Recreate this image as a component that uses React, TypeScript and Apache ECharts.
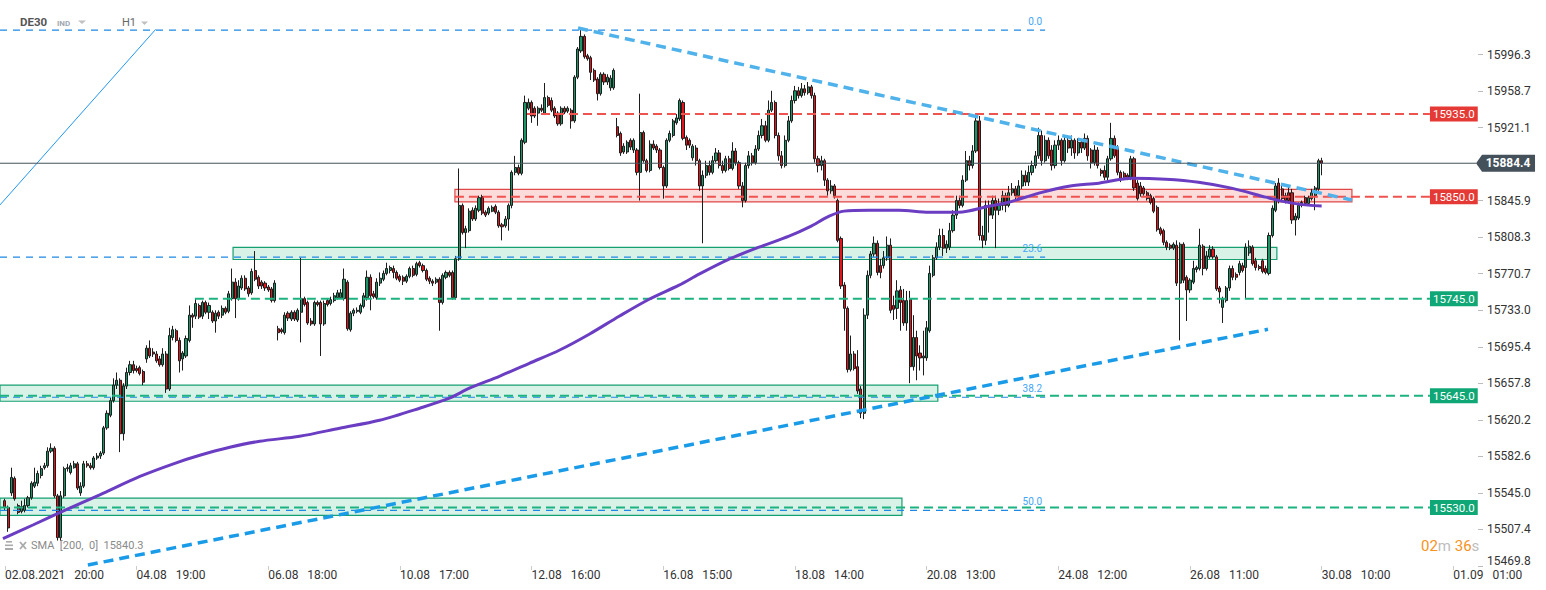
import React, { useEffect, useRef } from 'react';
import * as echarts from 'echarts';

const N_SLOTS = 449;
const xTickLabels = ['02.08.2021 20:00', '04.08 19:00', '06.08 18:00', '10.08 17:00', '12.08 16:00', '16.08 15:00', '18.08 14:00', '20.08 13:00', '24.08 12:00', '26.08 11:00', '30.08 10:00', '01.09 01:00'];
const yTickLabels = ['15469.8', '15507.4', '15545.0', '15582.6', '15620.2', '15657.8', '15695.4', '15733.0', '15770.7', '15808.3', '15845.9', '', '15921.1', '15958.7', '15996.3', ''];
const Y_MIN = 15469.8;
const Y_STEP = 37.607;

// candles: [open, close, low, high]
const seg1 = [
  [15537,15530,15527,15539],[15530,15509,15505,15532],[15545,15561,15542,15571],[15560,15539,15537,15562],[15532,15525,15523,15534],
  [15526,15531,15524,15537],[15527,15532,15525,15539],[15532,15540,15530,15542],[15540,15555,15538,15557],[15552,15556,15550,15571],
  [15555,15565,15552,15568],[15563,15570,15560,15573],[15571,15573,15569,15576],[15573,15588,15571,15592],[15588,15591,15586,15596],
  [15591,15542,15540,15593],[15542,15499,15496,15544],[15499,15542,15496,15547],[15542,15570,15540,15572],[15570,15571,15567,15575],
  [15566,15573,15564,15576],[15571,15575,15570,15578],[15575,15550,15548,15577],[15545,15552,15542,15556],[15552,15575,15550,15578],
  [15575,15573,15571,15578],[15573,15571,15569,15576],[15571,15581,15569,15583],[15581,15583,15579,15586],[15583,15586,15580,15588],
  [15586,15612,15584,15614],[15612,15627,15610,15630],[15625,15640,15623,15643],[15640,15656,15638,15663],[15656,15661,15652,15669],
  [15661,15606,15587,15663],[15606,15655,15599,15658],[15655,15669,15652,15674],[15669,15677,15666,15681],[15677,15671,15668,15681],
];
const seg2 = [
  [15673,15671,15669,15676],[15674,15668,15666,15676],[15670,15659,15656,15672],[15683,15694,15679,15697],[15694,15686,15684,15702],
  [15690,15688,15685,15694],[15688,15681,15679,15691],[15683,15677,15675,15686],[15677,15688,15675,15694],[15688,15652,15648,15691],
  [15652,15707,15650,15715],[15705,15713,15702,15717],[15712,15702,15700,15714],[15702,15681,15669,15705],[15683,15689,15671,15691],
  [15686,15704,15684,15707],[15702,15728,15700,15738],[15728,15726,15715,15730],[15727,15740,15724,15745],[15738,15726,15724,15740],
  [15727,15741,15724,15743],[15741,15731,15729,15743],[15731,15738,15724,15741],[15731,15722,15720,15733],[15722,15730,15710,15733],
  [15731,15727,15724,15733],[15728,15735,15725,15738],[15735,15731,15729,15737],[15732,15750,15730,15753],[15745,15762,15743,15776],
  [15762,15745,15725,15766],[15745,15758,15743,15764],[15756,15766,15754,15769],[15766,15755,15753,15769],[15756,15750,15747,15758],
  [15751,15773,15749,15776],[15774,15765,15763,15794],[15767,15758,15755,15769],[15762,15758,15755,15764],[15761,15756,15753,15763],
];
const seg3 = [
  [15757,15754,15752,15759],[15755,15743,15741,15757],[15743,15761,15741,15764],[15714,15710,15702,15717],[15713,15711,15709,15715],
  [15710,15728,15708,15731],[15730,15725,15722,15732],[15724,15731,15722,15733],[15731,15724,15722,15733],[15723,15733,15721,15735],
  [15731,15745,15700,15787],[15745,15739,15737,15747],[15741,15720,15718,15743],[15722,15719,15717,15725],[15719,15741,15717,15743],
  [15741,15739,15737,15743],[15741,15719,15686,15743],[15719,15740,15717,15743],[15743,15739,15737,15745],[15740,15744,15738,15747],
  [15743,15748,15741,15751],[15746,15751,15744,15754],[15746,15751,15745,15755],[15745,15765,15743,15776],[15762,15714,15712,15764],
  [15713,15730,15711,15732],[15730,15733,15727,15735],[15732,15733,15730,15736],[15731,15738,15729,15740],[15737,15748,15735,15751],
  [15746,15767,15743,15774],[15767,15748,15733,15770],[15750,15747,15745,15753],[15746,15762,15744,15766],[15761,15766,15758,15772],
  [15765,15771,15763,15774],[15771,15776,15769,15782],[15774,15777,15771,15779],[15776,15772,15766,15779],[15772,15766,15764,15774],
];
const seg4 = [
  [15768,15764,15762,15770],[15767,15763,15759,15769],[15763,15768,15761,15770],[15768,15776,15766,15778],[15776,15769,15767,15779],
  [15770,15781,15768,15783],[15782,15779,15777,15784],[15779,15774,15772,15781],[15774,15765,15763,15776],[15766,15763,15760,15768],
  [15763,15761,15758,15765],[15762,15765,15760,15767],[15765,15741,15712,15767],[15741,15769,15739,15771],[15767,15772,15765,15774],
  [15772,15769,15767,15774],[15772,15746,15744,15774],[15746,15786,15744,15789],[15786,15841,15784,15879],[15841,15813,15811,15843],
  [15813,15817,15797,15820],[15815,15835,15813,15838],[15836,15827,15825,15839],[15827,15838,15825,15841],[15836,15849,15834,15851],
  [15850,15833,15831,15852],[15834,15831,15829,15836],[15833,15838,15831,15840],[15835,15839,15834,15841],[15840,15834,15832,15842],
  [15834,15820,15818,15836],[15821,15819,15805,15823],[15820,15827,15818,15830],[15827,15841,15815,15843],[15841,15875,15838,15877],
  [15875,15880,15872,15892],[15880,15874,15872,15883],[15874,15908,15872,15910],[15906,15947,15904,15954],[15941,15947,15939,15951],
];
const seg5 = [
  [15947,15933,15926,15949],[15941,15933,15931,15943],[15936,15941,15923,15943],[15941,15939,15937,15945],[15936,15952,15934,15967],
  [15952,15944,15942,15954],[15949,15939,15937,15952],[15941,15933,15931,15943],[15936,15925,15923,15938],[15925,15941,15923,15943],
  [15941,15937,15935,15943],[15938,15941,15936,15943],[15939,15928,15920,15941],[15928,15973,15926,15975],[15973,16002,15971,16004],
  [16000,16015,15998,16022],[16015,15994,15992,16017],[15995,15992,15990,15997],[15993,15978,15970,15995],[15980,15970,15968,15982],
  [15971,15956,15949,15973],[15956,15976,15954,15978],[15976,15968,15965,15978],[15968,15973,15965,15976],[15962,15972,15959,15975],
  [15962,15980,15960,15982],[15922,15913,15911,15931],[15915,15895,15892,15917],[15896,15902,15894,15905],[15896,15906,15894,15908],
  [15908,15901,15898,15910],[15898,15908,15895,15910],[15898,15875,15872,15900],[15875,15916,15846,15956],[15916,15887,15885,15918],
  [15887,15877,15875,15889],[15877,15904,15875,15908],[15904,15900,15898,15908],[15902,15898,15895,15904],[15898,15880,15878,15900],
];
const seg6 = [
  [15880,15861,15848,15882],[15861,15908,15859,15910],[15908,15915,15906,15918],[15913,15928,15911,15930],[15926,15931,15924,15935],
  [15930,15949,15928,15951],[15947,15910,15908,15949],[15911,15903,15898,15913],[15908,15903,15900,15910],[15890,15902,15887,15904],
  [15900,15887,15882,15903],[15887,15861,15856,15889],[15861,15872,15802,15877],[15872,15882,15869,15887],[15882,15875,15872,15887],
  [15875,15887,15873,15892],[15887,15895,15885,15900],[15895,15882,15879,15898],[15882,15877,15874,15887],[15877,15889,15875,15892],
  [15889,15879,15877,15892],[15879,15897,15877,15906],[15897,15885,15882,15900],[15885,15861,15858,15887],[15861,15846,15839,15865],
  [15846,15882,15844,15885],[15882,15892,15879,15897],[15892,15885,15882,15895],[15885,15899,15883,15903],[15899,15913,15897,15918],
  [15913,15923,15910,15930],[15923,15908,15906,15928],[15908,15939,15906,15949],[15939,15947,15937,15959],[15947,15913,15910,15949],
  [15913,15892,15887,15916],[15892,15882,15879,15897],[15882,15908,15880,15913],[15908,15928,15906,15933],[15928,15949,15926,15954],
];
const seg7 = [
  [15949,15959,15946,15964],[15959,15954,15951,15963],[15954,15961,15952,15967],[15961,15957,15954,15965],[15957,15963,15955,15968],
  [15963,15954,15951,15965],[15954,15889,15885,15957],[15889,15882,15875,15892],[15882,15887,15877,15892],[15887,15867,15861,15889],
  [15867,15856,15851,15869],[15856,15861,15853,15867],[15861,15851,15848,15863],[15846,15805,15803,15848],[15807,15758,15755,15809],
  [15759,15735,15712,15762],[15735,15672,15669,15737],[15672,15688,15670,15707],[15688,15673,15671,15691],[15675,15650,15647,15692],
  [15652,15627,15622,15655],[15627,15728,15621,15735],[15728,15769,15724,15774],[15769,15791,15766,15794],[15791,15802,15788,15809],
  [15802,15772,15769,15805],[15779,15772,15766,15786],[15779,15787,15776,15794],[15787,15800,15784,15809],[15800,15733,15730,15807],
  [15738,15734,15723,15748],[15735,15753,15724,15764],[15754,15741,15712,15758],[15743,15720,15717,15755],[15720,15743,15712,15753],
  [15745,15675,15658,15753],[15675,15705,15671,15728],[15705,15686,15661,15712],[15689,15684,15671,15697],[15684,15686,15666,15712],
];
const seg8 = [
  [15684,15715,15681,15722],[15712,15771,15710,15779],[15769,15787,15767,15790],[15787,15798,15785,15803],[15798,15810,15795,15817],
  [15810,15797,15789,15817],[15797,15801,15792,15805],[15798,15815,15795,15823],[15815,15831,15813,15836],[15831,15846,15827,15851],
  [15846,15841,15838,15851],[15841,15867,15839,15872],[15867,15887,15865,15897],[15887,15882,15877,15892],[15882,15897,15879,15903],
  [15897,15928,15895,15936],[15928,15810,15805,15933],[15810,15805,15797,15820],[15805,15841,15800,15846],[15841,15831,15813,15846],
  [15831,15846,15827,15851],[15846,15836,15797,15851],[15836,15841,15831,15848],[15841,15851,15836,15856],[15851,15841,15834,15854],
  [15841,15854,15839,15861],[15854,15858,15851,15864],[15858,15851,15846,15861],[15851,15861,15848,15867],[15861,15872,15858,15877],
  [15872,15865,15861,15877],[15865,15875,15861,15882],[15875,15882,15872,15887],[15882,15892,15879,15897],[15892,15913,15889,15921],
  [15913,15887,15882,15918],[15887,15908,15885,15913],[15908,15892,15889,15911],[15898,15882,15877,15903],[15882,15903,15879,15908],
];
const seg9 = [
  [15903,15908,15898,15913],[15908,15887,15882,15910],[15887,15908,15885,15913],[15908,15900,15895,15911],[15900,15908,15892,15913],
  [15908,15895,15889,15910],[15895,15906,15892,15910],[15906,15900,15895,15908],[15900,15910,15898,15915],[15910,15892,15887,15913],
  [15898,15885,15879,15900],[15885,15898,15882,15903],[15898,15882,15879,15901],[15877,15874,15871,15879],[15877,15870,15867,15882],
  [15870,15889,15867,15892],[15889,15910,15887,15926],[15910,15892,15890,15913],[15901,15875,15872,15903],[15875,15868,15865,15877],
  [15874,15870,15867,15876],[15872,15870,15867,15874],[15870,15889,15867,15892],[15889,15859,15856,15891],[15864,15848,15846,15867],
  [15861,15853,15850,15865],[15859,15853,15851,15861],[15854,15848,15846,15856],[15851,15844,15842,15853],[15848,15835,15833,15850],
  [15839,15816,15814,15841],[15817,15812,15810,15819],[15815,15803,15800,15817],[15803,15798,15795,15805],[15800,15797,15795,15802],
  [15797,15801,15795,15803],[15800,15761,15758,15805],[15761,15801,15702,15803],[15801,15764,15761,15803],[15767,15754,15722,15769],
];
const seg10 = [
  [15754,15764,15751,15766],[15762,15776,15760,15784],[15775,15777,15772,15779],[15776,15800,15774,15817],[15799,15776,15769,15801],
  [15776,15789,15774,15794],[15788,15796,15786,15800],[15796,15788,15786,15799],[15788,15755,15753,15790],[15756,15752,15740,15758],
  [15736,15745,15720,15747],[15743,15756,15741,15758],[15756,15776,15753,15779],[15776,15767,15764,15779],[15770,15767,15764,15772],
  [15772,15781,15769,15784],[15779,15774,15772,15782],[15777,15798,15745,15802],[15792,15799,15789,15805],[15798,15781,15779,15800],
  [15784,15777,15774,15787],[15778,15776,15774,15780],[15784,15773,15771,15786],[15776,15772,15770,15779],[15771,15810,15769,15813],
  [15810,15838,15808,15841],[15836,15861,15834,15864],[15864,15846,15843,15869],[15858,15848,15846,15861],[15851,15846,15843,15854],
  [15854,15846,15844,15861],[15854,15826,15822,15858],[15826,15830,15810,15833],[15828,15841,15826,15844],[15841,15844,15839,15846],
  [15849,15843,15841,15851],[15843,15849,15841,15851],[15848,15854,15846,15858],[15851,15859,15836,15861],[15858,15887,15856,15889],
];
const seg11 = [[15887, 15884.4, 15872, 15890]];

const smaIdx = [0.4, 9.5, 19.8, 29.8, 42, 52.6, 60.2, 69.3, 78.4, 90.5, 102.7, 114.8, 127, 136, 142.1, 151.2, 160.3, 169.4, 178.5, 187.6, 196.7, 205.8, 211.9, 221, 230.1, 239.2, 245.3, 251.4, 255.9, 263.5, 272.6, 281.7, 290.8, 299.9, 306, 315.1, 324.2, 333.3, 343.3, 353.6, 363.6, 373.6, 384, 388.8, 394, 401];
const smaVal = [15498, 15512, 15528, 15543, 15562, 15575.5, 15583.8, 15592.0, 15598.2, 15603.3, 15611.6, 15619.8, 15632.2, 15642.5, 15652.8, 15665.1, 15678.5, 15691.9, 15708.4, 15726.9, 15744.4, 15758.9, 15770.2, 15785.6, 15798.0, 15809.3, 15818.6, 15829.9, 15835.1, 15836.1, 15836.1, 15834.0, 15834.0, 15840.2, 15844.3, 15853.6, 15860.8, 15863.9, 15869.0, 15868.0, 15864.9, 15858.8, 15849.5, 15845.4, 15842.3, 15840.3];

const LAST_PRICE = 15884.4;
const levelValues = [15935.0, 15850.0, 15745.0, 15645.0, 15530.0];
const levelStarts = [159.6, 137.7, 58.7, -0.5, -0.5];
const levelKinds = ['res', 'res', 'sup', 'sup', 'sup'];
const LEVEL_END = 433.9;

const fibNames = ['0.0', '23.6', '38.2', '50.0'];
const fibValues = [16021.5, 15787.7, 15643.5, 15527.1];
const FIB_END = 317;

// zones: [x0, x1, top, bottom, kind(0 red,1 green)]
const zones = [
  [137.7, 410.2, 15857.4, 15844.6, 0],
  [70.3, 387.4, 15797.7, 15785.3, 1],
  [-0.5, 284.4, 15655.9, 15639.4, 1],
  [-0.5, 273.5, 15539.6, 15522.0, 1],
];

const upperTrend = [[175.1, 16023.6], [410.2, 15846.5]];
const lowerTrend = [[26.2, 15470.8], [384.7, 15713.5]];
const thinLine = [[-0.5, 15841.5], [46.8, 16022.2]];
const TAG_X = 447.9;

const RED = '#e53935';
const GREEN = '#10a776';

function buildOption() {
  const all = [...seg1, ...seg2, ...seg3, ...seg4, ...seg5, ...seg6, ...seg7, ...seg8, ...seg9, ...seg10, ...seg11];
  const candles = all.map((c, i) => [i + 1, c[0], c[1], c[2], c[3]]);
  const cats = Array.from({ length: N_SLOTS }, (_, i) => String(i));
  const tickIdx = Array.from({ length: 15 }, (_, i) => i);
  const series: any[] = [];

  series.push({
    type: 'custom', xAxisIndex: 1, yAxisIndex: 0, silent: true, z: 1,
    data: zones, encode: { x: [0, 1], y: [2, 3] },
    renderItem: (params: any, api: any) => {
      const p0 = api.coord([api.value(0), api.value(2)]);
      const p1 = api.coord([api.value(1), api.value(3)]);
      const red = api.value(4) === 0;
      return {
        type: 'rect',
        shape: { x: p0[0], y: p0[1], width: p1[0] - p0[0], height: p1[1] - p0[1] },
        style: red
          ? { fill: 'rgba(240,90,90,0.22)', stroke: '#e04848', lineWidth: 1.2 }
          : { fill: 'rgba(40,185,130,0.18)', stroke: '#14a070', lineWidth: 1.2 },
      };
    },
  });

  series.push({
    type: 'candlestick', xAxisIndex: 0, yAxisIndex: 0, silent: true, z: 3,
    data: candles, encode: { x: 0, y: [1, 2, 3, 4] },
    barWidth: 2.6,
    itemStyle: { color: '#1b9466', color0: '#e3151b', borderColor: '#1d1d1d', borderColor0: '#1d1d1d', borderWidth: 1 },
  });

  fibValues.forEach((v, i) => {
    series.push({
      type: 'line', xAxisIndex: 1, yAxisIndex: 0, silent: true, z: 4,
      symbol: 'circle', symbolSize: 0.1, showSymbol: true,
      lineStyle: { color: '#1e88e5', width: 1.2, type: [7, 6] },
      itemStyle: { color: '#1e88e5' },
      data: [[-0.5, v], { value: [FIB_END, v], label: { show: true, formatter: fibNames[i], position: [-3, -9], align: 'right', verticalAlign: 'middle', color: '#42a5f5', fontSize: 10 } }],
    });
  });

  levelValues.forEach((v, i) => {
    const c = levelKinds[i] === 'res' ? RED : GREEN;
    const lc = levelKinds[i] === 'res' ? '#ef5350' : '#1db380';
    series.push({
      type: 'line', xAxisIndex: 1, yAxisIndex: 0, silent: true, z: 5, symbol: 'none',
      lineStyle: { color: lc, width: 2, type: [9, 5] },
      data: [[levelStarts[i], v], [LEVEL_END, v]],
      endLabel: { show: true, formatter: v.toFixed(1), backgroundColor: c, color: '#fff', padding: [2, 3, 1, 3], fontSize: 11.5, distance: 0 },
    });
  });

  series.push({
    type: 'line', xAxisIndex: 1, yAxisIndex: 0, silent: true, z: 6, symbol: 'none',
    lineStyle: { color: '#4fb2ea', width: 3.5, type: [10, 6] }, data: upperTrend,
  });
  series.push({
    type: 'line', xAxisIndex: 1, yAxisIndex: 0, silent: true, z: 6, symbol: 'none',
    lineStyle: { color: '#1a9be8', width: 3.5, type: [10, 6] }, data: lowerTrend,
  });
  series.push({
    type: 'line', xAxisIndex: 1, yAxisIndex: 0, silent: true, z: 6, symbol: 'none',
    lineStyle: { color: '#2196f3', width: 1 }, data: thinLine,
  });
  series.push({
    type: 'line', xAxisIndex: 1, yAxisIndex: 0, silent: true, z: 6, symbol: 'none', smooth: 0.3,
    lineStyle: { color: '#6a3dc2', width: 3 },
    data: smaIdx.map((x, i) => [x, smaVal[i]]),
  });
  series.push({
    type: 'line', xAxisIndex: 1, yAxisIndex: 0, silent: true, z: 7, symbol: 'none',
    lineStyle: { color: '#45525c', width: 1 },
    data: [[-0.5, LAST_PRICE], [TAG_X, LAST_PRICE]],
    markPoint: {
      silent: true,
      symbol: 'path://M0,8.5L6,0L59,0L59,17L6,17Z',
      symbolSize: [59, 17], symbolOffset: [29.5, 0], symbolKeepAspect: false,
      itemStyle: { color: '#44515b' },
      label: { show: true, position: 'inside', formatter: LAST_PRICE.toFixed(1), color: '#fff', fontWeight: 'bold', fontSize: 12, offset: [2.5, 0] },
      data: [{ coord: [TAG_X, LAST_PRICE], value: LAST_PRICE }],
    },
  });

  const isTick = (i: number) => i % 40 === 1;

  return {
    animation: false,
    backgroundColor: '#ffffff',
    textStyle: { fontFamily: 'Roboto' },
    grid: { left: 0, right: 68, top: 18, bottom: 24, containLabel: false },
    xAxis: [
      {
        type: 'category', data: cats, boundaryGap: true,
        axisLine: { show: false },
        axisTick: { show: true, alignWithLabel: true, interval: isTick, length: 4, lineStyle: { color: '#cccccc' } },
        axisLabel: {
          interval: isTick, align: 'left', margin: 3, color: '#333', fontSize: 12,
          formatter: (_v: string, idx: number) => {
            const s = xTickLabels[(idx - 1) / 40] || '';
            return s.replace(' ', '\u00a0\u00a0\u00a0');
          },
        },
        splitLine: { show: false },
      },
      { type: 'value', min: -0.5, max: N_SLOTS - 0.5, show: false },
    ],
    yAxis: [
      { type: 'value', min: Y_MIN, max: Y_MIN + 15 * Y_STEP, show: false, splitLine: { show: false } },
      {
        type: 'value', min: 0, max: 15, interval: 1, position: 'right',
        axisLine: { show: false },
        axisTick: { show: true, length: 5, lineStyle: { color: '#bbbbbb' }, customValues: tickIdx },
        splitLine: { show: false },
        axisLabel: {
          margin: 9, color: '#333', fontSize: 12, customValues: tickIdx,
          formatter: (v: number) => {
            const i = Math.round(v);
            if (Math.abs(v - i) > 1e-6) return '';
            if (i === 0) return '{lo|' + yTickLabels[0] + '}';
            return yTickLabels[i] || '';
          },
          rich: { lo: { padding: [0, 0, 10, 0], color: '#333', fontSize: 12, fontFamily: 'Roboto' } },
        },
      },
    ],
    graphic: [
      { type: 'text', left: 20, top: 16, silent: true, style: { text: 'DE30', fill: '#555', font: 'bold 11.5px Roboto' } },
      { type: 'text', left: 57, top: 19, silent: true, style: { text: 'IND', fill: '#a0a8b0', font: 'bold 8px Roboto' } },
      { type: 'polygon', silent: true, shape: { points: [[78, 20.5], [86, 20.5], [82, 24]] }, style: { fill: '#c0c0c0' } },
      { type: 'text', left: 122, top: 17, silent: true, style: { text: 'H1', fill: '#666', font: '11px Roboto' } },
      { type: 'polygon', silent: true, shape: { points: [[141, 21.5], [148, 21.5], [144.5, 25]] }, style: { fill: '#c0c0c0' } },
      { type: 'rect', silent: true, shape: { x: 6, y: 541, width: 6, height: 1.6 }, style: { fill: '#aaa' } },
      { type: 'rect', silent: true, shape: { x: 5, y: 544.5, width: 8, height: 1.6 }, style: { fill: '#aaa' } },
      { type: 'rect', silent: true, shape: { x: 5, y: 548, width: 8, height: 2 }, style: { fill: '#aaa' } },
      { type: 'line', silent: true, shape: { x1: 20, y1: 542, x2: 26, y2: 549 }, style: { stroke: '#aaa', lineWidth: 1.8 } },
      { type: 'line', silent: true, shape: { x1: 26, y1: 542, x2: 20, y2: 549 }, style: { stroke: '#aaa', lineWidth: 1.8 } },
      { type: 'text', left: 31, top: 540, silent: true, style: { text: 'SMA\u00a0\u00a0[200,\u00a0\u00a00]\u00a0\u00a015840.3', fill: '#8a8a8a', font: '11px Roboto' } },
      {
        type: 'text', left: 1421, top: 538, silent: true,
        style: {
          text: '{o|02}{g|m} {o|36}{g|s}', font: '15px Roboto',
          rich: { o: { fill: '#f6921e', fontSize: 15, fontFamily: 'Roboto' }, g: { fill: '#bdbdbd', fontSize: 15, fontFamily: 'Roboto' } },
        },
      },
    ],
    series,
  };
}

export default function App() {
  const ref = useRef<HTMLDivElement>(null);
  useEffect(() => {
    document.body.style.margin = '0';
    const chart = echarts.init(ref.current as HTMLDivElement, undefined, { renderer: 'svg' });
    chart.setOption(buildOption() as any);
    return () => chart.dispose();
  }, []);
  return <div ref={ref} style={{ width: 1546, height: 590 }} />;
}
